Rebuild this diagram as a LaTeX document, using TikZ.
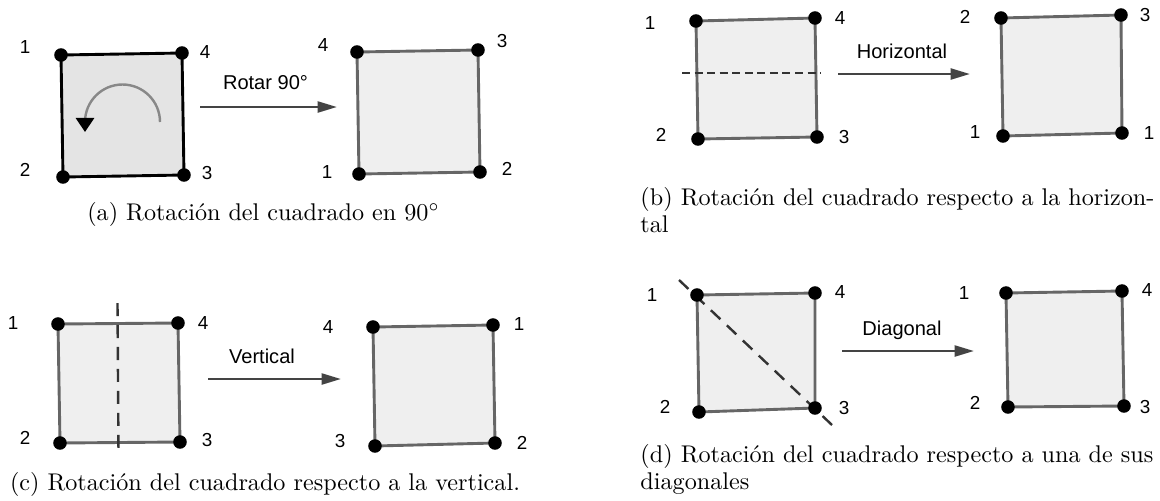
\documentclass[tikz,border=0pt]{standalone}
\usepackage{fontspec}
\usepackage{tikz}
\usetikzlibrary{arrows.meta,backgrounds}
\newfontfamily\labfont{Liberation Sans}
\definecolor{sqfill}{RGB}{239,239,239}
\definecolor{sqdark}{RGB}{228,228,228}
\definecolor{sqline}{RGB}{102,102,102}
\definecolor{arrgray}{RGB}{68,68,68}
\definecolor{cutgray}{RGB}{51,51,51}
\definecolor{turngray}{RGB}{136,136,136}

\begin{document}
\begin{tikzpicture}[
  x=0.414pt,y=-0.414pt,
  dot/.style={circle,fill=black,inner sep=0pt,minimum size=5.6pt},
  sq/.style={draw=sqline,fill=sqfill,line width=1.2pt,line join=round},
  sqblack/.style={sq,draw=black,fill=sqdark},
  num/.style={font=\labfont\fontsize{7.8}{9}\selectfont,inner sep=0pt},
  lbl/.style={font=\labfont\fontsize{8.3}{10}\selectfont,inner sep=0pt,anchor=base},
  arr/.style={-{Triangle[length=8pt,width=4.5pt]},line width=1.1pt,arrgray},
  cut/.style={cutgray,line width=1pt,dash pattern=on 5.4pt off 3.7pt},
  cutshort/.style={cut,line width=1.1pt,dash pattern=on 3.3pt off 1.9pt},
  turn/.style={-{Triangle[length=5.8pt,width=7.5pt,black]},line width=1pt,turngray},
  captext/.style={font=\normalsize,inner sep=0pt,anchor=base},
  ]
  \useasboundingbox (0,0) rectangle (1160,500);
  % (a)
  \node[dot] (aL-tl) at (61,55) {};   \node[dot] (aL-tr) at (182,53) {};
  \node[dot] (aL-br) at (184,175) {}; \node[dot] (aL-bl) at (63,177) {};
  \node[num] (aL-n1) at (25,47) {1};  \node[num] (aL-n4) at (205,52) {4};
  \node[num] (aL-n3) at (207,173) {3}; \node[num] (aL-n2) at (25,170) {2};
  \node[dot] (aR-tl) at (357,52) {};  \node[dot] (aR-tr) at (478,50) {};
  \node[dot] (aR-br) at (480,172) {}; \node[dot] (aR-bl) at (359,174) {};
  \node[num] (aR-n4) at (323,45) {4}; \node[num] (aR-n3) at (502,41) {3};
  \node[num] (aR-n2) at (507,169) {2}; \node[num] (aR-n1) at (327,172) {1};
  \coordinate (a-from) at (200,107); \coordinate (a-to) at (337,107);
  \draw[arr] (a-from) -- (a-to);
  \node[lbl] (a-lbl) at (265.5,89) {Rotar 90°};
  \coordinate (a-turn) at (160,122);
  \draw[turn] (a-turn) arc[start angle=0,end angle=-180,radius=37.5] -- ++(0,10);
  \node[captext] (a-cap) at (263.5,220) {(a) Rotación del cuadrado en 90$^\circ$};
  % (b)
  \node[dot] (bL-tl) at (696,21) {};  \node[dot] (bL-tr) at (815,18) {};
  \node[dot] (bL-br) at (817,137) {}; \node[dot] (bL-bl) at (698,139) {};
  \node[num] (bL-n1) at (650,23) {1}; \node[num] (bL-n4) at (840,18) {4};
  \node[num] (bL-n3) at (844,137) {3}; \node[num] (bL-n2) at (661,135) {2};
  \node[dot] (bR-tl) at (1001,18) {}; \node[dot] (bR-tr) at (1121,15) {};
  \node[dot] (bR-br) at (1122,133) {}; \node[dot] (bR-bl) at (1003,136) {};
  \node[num] (bR-n2) at (965,17) {2}; \node[num] (bR-n3) at (1145,15) {3};
  \node[num] (bR-n1) at (1149,133) {1}; \node[num] (bR-n1b) at (975,132) {1};
  \coordinate (b-cut1) at (682,73); \coordinate (b-cut2) at (821,73);
  \draw[cutshort] (b-cut1) -- (b-cut2);
  \coordinate (b-from) at (838,74); \coordinate (b-to) at (970,74);
  \draw[arr] (b-from) -- (b-to);
  \node[lbl] (b-lbl) at (902,58) {Horizontal};
  \node[captext,anchor=base west] (b-cap) at (640,205) {(b) Rotación del cuadrado respecto a la horizon-};
  \node[captext,anchor=base west] (b-cap2) at (640,232) {tal};
  % (c)
  \node[dot] (cL-tl) at (58,324) {};  \node[dot] (cL-tr) at (178,323) {};
  \node[dot] (cL-br) at (180,442) {}; \node[dot] (cL-bl) at (60,443) {};
  \node[num] (cL-n1) at (13,323) {1}; \node[num] (cL-n4) at (203,323) {4};
  \node[num] (cL-n3) at (207,440) {3}; \node[num] (cL-n2) at (25,438) {2};
  \node[dot] (cR-tl) at (373,327) {}; \node[dot] (cR-tr) at (493,325) {};
  \node[dot] (cR-br) at (495,443) {}; \node[dot] (cR-bl) at (375,446) {};
  \node[num] (cR-n4) at (328,327) {4}; \node[num] (cR-n1) at (519,324) {1};
  \node[num] (cR-n2) at (522,443) {2}; \node[num] (cR-n3) at (340,441) {3};
  \coordinate (c-cut1) at (117.5,303); \coordinate (c-cut2) at (118.5,453);
  \draw[cut] (c-cut1) -- (c-cut2);
  \coordinate (c-from) at (208,379); \coordinate (c-to) at (341,379);
  \draw[arr] (c-from) -- (c-to);
  \node[lbl] (c-lbl) at (262,363) {Vertical};
  \node[captext] (c-cap) at (265,490) {(c) Rotación del cuadrado respecto a la vertical.};
  % (d)
  \node[dot] (dL-tl) at (697,295) {}; \node[dot] (dL-tr) at (815,293) {};
  \node[dot] (dL-br) at (815,408) {}; \node[dot] (dL-bl) at (699,412) {};
  \node[num] (dL-n1) at (652,295) {1}; \node[num] (dL-n4) at (840,292) {4};
  \node[num] (dL-n3) at (844,408) {3}; \node[num] (dL-n2) at (665,407) {2};
  \node[dot] (dR-tl) at (1006,293) {}; \node[dot] (dR-tr) at (1122,291) {};
  \node[dot] (dR-br) at (1124,406) {}; \node[dot] (dR-bl) at (1008,407) {};
  \node[num] (dR-n1) at (964,293) {1}; \node[num] (dR-n4) at (1147,290) {4};
  \node[num] (dR-n3) at (1145,407) {3}; \node[num] (dR-n2) at (975,403) {2};
  \coordinate (d-cut1) at (679,280); \coordinate (d-cut2) at (832,425);
  \coordinate (d-from) at (842,351); \coordinate (d-to) at (974,351);
  \draw[arr] (d-from) -- (d-to);
  \node[lbl] (d-lbl) at (902,335) {Diagonal};
  \node[captext,anchor=base west] (d-cap) at (640,462) {(d) Rotación del cuadrado respecto a una de sus};
  \node[captext,anchor=base west] (d-cap2) at (640,489) {diagonales};
  \begin{scope}[on background layer]
    \draw[sqblack] (aL-tl.center) -- (aL-tr.center) -- (aL-br.center) -- (aL-bl.center) -- cycle;
    \draw[sq] (aR-tl.center) -- (aR-tr.center) -- (aR-br.center) -- (aR-bl.center) -- cycle;
    \draw[sq] (bL-tl.center) -- (bL-tr.center) -- (bL-br.center) -- (bL-bl.center) -- cycle;
    \draw[sq] (bR-tl.center) -- (bR-tr.center) -- (bR-br.center) -- (bR-bl.center) -- cycle;
    \draw[sq] (cL-tl.center) -- (cL-tr.center) -- (cL-br.center) -- (cL-bl.center) -- cycle;
    \draw[sq] (cR-tl.center) -- (cR-tr.center) -- (cR-br.center) -- (cR-bl.center) -- cycle;
    \draw[sq] (dL-tl.center) -- (dL-tr.center) -- (dL-br.center) -- (dL-bl.center) -- cycle;
    \draw[sq] (dR-tl.center) -- (dR-tr.center) -- (dR-br.center) -- (dR-bl.center) -- cycle;
    \draw[cut] (d-cut1) -- (d-cut2);
  \end{scope}
\end{tikzpicture}
\end{document}
